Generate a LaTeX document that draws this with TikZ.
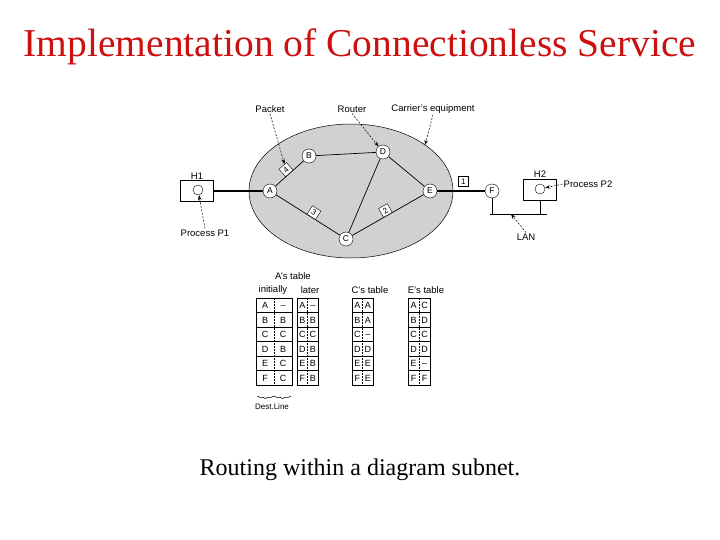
\documentclass[tikz,border=0pt]{standalone}
\usepackage{fontspec}
\setmainfont{Liberation Serif}
\setsansfont{Liberation Sans}
\usepackage{xcolor}
\usetikzlibrary{arrows.meta}
\usetikzlibrary{positioning}
\usetikzlibrary{decorations.pathreplacing}
\definecolor{carrier}{gray}{0.82}
\definecolor{titlered}{RGB}{204,16,16}
\tikzset{router/.style = {draw, circle, fill=white, inner sep=0, minimum size=14, font=\sffamily\fontsize{8.5}{8.5}\selectfont}}
\tikzset{host/.style = {draw, fill=white, minimum width=33, minimum height=21, inner sep=0}}
\tikzset{proc/.style = {draw, circle, inner sep=0, minimum size=10}}
\tikzset{pkt/.style = {draw, fill=white, inner sep=1.5, minimum size=10, font=\sffamily\fontsize{8}{8}\selectfont}}
\tikzset{lbl/.style = {inner sep=1, font=\sffamily\fontsize{9.5}{9.5}\selectfont}}
\tikzset{cell/.style = {inner sep=0, text height=6.5, text depth=0, font=\sffamily\fontsize{9}{9}\selectfont}}
\tikzset{link/.style = {line width=0.7}}
\tikzset{callout/.style = {-{Stealth[length=5,width=3.5]}, dash pattern=on 2 off 1.5, line width=0.5}}

\begin{document}
\begin{tikzpicture}[x=1pt,y=-1pt]
        \useasboundingbox (0,0) rectangle (720,540);
        \node[text=titlered, font=\fontsize{39.5}{39.5}\selectfont] (heading) at (360,47) {Implementation of Connectionless Service};
        \node[font=\fontsize{24}{24}\selectfont] (caption) at (360,470) {Routing within a diagram subnet.};
        % carrier's equipment
        \draw[fill=carrier, line width=0.5] (351,191) ellipse [x radius=102, y radius=67];
        \coordinate (rim) at (425,145);
        \node[router] (A) at (270,191) {A};
        \node[router] (B) at (309,156) {B};
        \node[router] (D) at (383,152) {D};
        \node[router] (E) at (430,191) {E};
        \node[router] (C) at (346,239) {C};
        \node[router] (F) at (492,191) {F};
        \draw[link] (A) -- (B) (B) -- (D) (A) -- (C) (D) -- (C) (D) -- (E) (C) -- (E);
        \path (A) -- node[pkt, sloped, anchor=south, pos=0.5] (p4) {4} (B);
        \path (A) -- node[pkt, sloped, anchor=south, pos=0.55] (p3) {3} (C);
        \path (C) -- node[pkt, sloped, anchor=south, pos=0.5] (p2) {2} (E);
        % hosts and LAN
        \node[host] (h1) at (197,191) {};
        \node[proc] (h1c) at (198,190) {};
        \node[lbl, above=0pt of h1] (h1name) {H1};
        \node[host] (h2) at (540,189.5) {};
        \node[proc] (h2c) at (540,189) {};
        \node[lbl, above=0pt of h2] (h2name) {H2};
        \draw[line width=1.1] (h1) -- (A);
        \draw[line width=1.1] (E) -- node[pkt, pos=0.55, anchor=south, yshift=4] (p1) {1} (F);
        \coordinate (lanL) at (490,214);
        \coordinate (lanR) at (547,214);
        \coordinate (lanP) at (511,214);
        \draw[link] (lanL) -- (lanR);
        \draw[link] (F) -- (F |- lanL);
        \draw[link] (h2) -- (h2 |- lanL);
        % labels and callouts
        \node[lbl] (packet) at (270,109) {Packet};
        \node[lbl] (router) at (352,109) {Router};
        \node[lbl] (carrierlbl) at (433,109) {Carrier's equipment};
        \node[lbl] (pp1) at (205,233) {Process P1};
        \node[lbl] (pp2) at (588,184) {Process P2};
        \node[lbl] (lan) at (526,237) {LAN};
        \draw[callout] (packet.south) -- (p4);
        \draw[callout] (router.south) -- (D);
        \draw[callout] (carrierlbl.south) -- (rim);
        \draw[callout] (pp1.north) -- (h1c);
        \draw[callout] (pp2.west) -- (h2c);
        \draw[callout] (lan.north) -- (lanP);
        % routing tables
        \node[lbl] (atable) at (293,276) {A's table};
        \node[lbl] (initially) at (273,290) {initially};
        \node[lbl] (later) at (310,290) {later};
        \node[lbl] (ctable) at (370,290) {C's table};
        \node[lbl] (etable) at (426,290) {E's table};
        \foreach \tx/\tw in {256/36, 297/21, 352/21, 408/22} {
            \draw[line width=0.5] (\tx,298) rectangle ++(\tw,87);
            \foreach \r in {1,...,5} \draw[line width=0.5] (\tx,298+14.5*\r) -- ++(\tw,0);
            \draw[line width=0.4, dash pattern=on 1.5 off 1.5] (\tx+\tw/2,298) -- ++(0,87);
        }
        \foreach \d/\l [count=\i from 0] in {A/\textendash,B/B,C/C,D/B,E/C,F/C}
            \node[cell] (ini-\d) at (265,305.3+14.5*\i) {\d} node[cell] (ini-\d-line) at (283,305.3+14.5*\i) {\l};
        \foreach \d/\l [count=\i from 0] in {A/\textendash,B/B,C/C,D/B,E/B,F/B}
            \node[cell] (lat-\d) at (302.3,305.3+14.5*\i) {\d} node[cell] (lat-\d-line) at (312.8,305.3+14.5*\i) {\l};
        \foreach \d/\l [count=\i from 0] in {A/A,B/A,C/\textendash,D/D,E/E,F/E}
            \node[cell] (cta-\d) at (357.3,305.3+14.5*\i) {\d} node[cell] (cta-\d-line) at (367.8,305.3+14.5*\i) {\l};
        \foreach \d/\l [count=\i from 0] in {A/C,B/D,C/C,D/D,E/\textendash,F/F}
            \node[cell] (eta-\d) at (413.5,305.3+14.5*\i) {\d} node[cell] (eta-\d-line) at (424.5,305.3+14.5*\i) {\l};
        \coordinate (destL) at (257,396);
        \coordinate (destM) at (274,396);
        \coordinate (destR) at (291,396);
        \draw[decorate, decoration={brace, mirror, amplitude=2.5}, line width=0.5] (destL) -- (destM);
        \draw[decorate, decoration={brace, mirror, amplitude=2.5}, line width=0.5] (destM) -- (destR);
        \node[lbl, font=\sffamily\fontsize{8}{8}\selectfont] (destline) at (272,407) {Dest.Line};
    \end{tikzpicture}
\end{document}
